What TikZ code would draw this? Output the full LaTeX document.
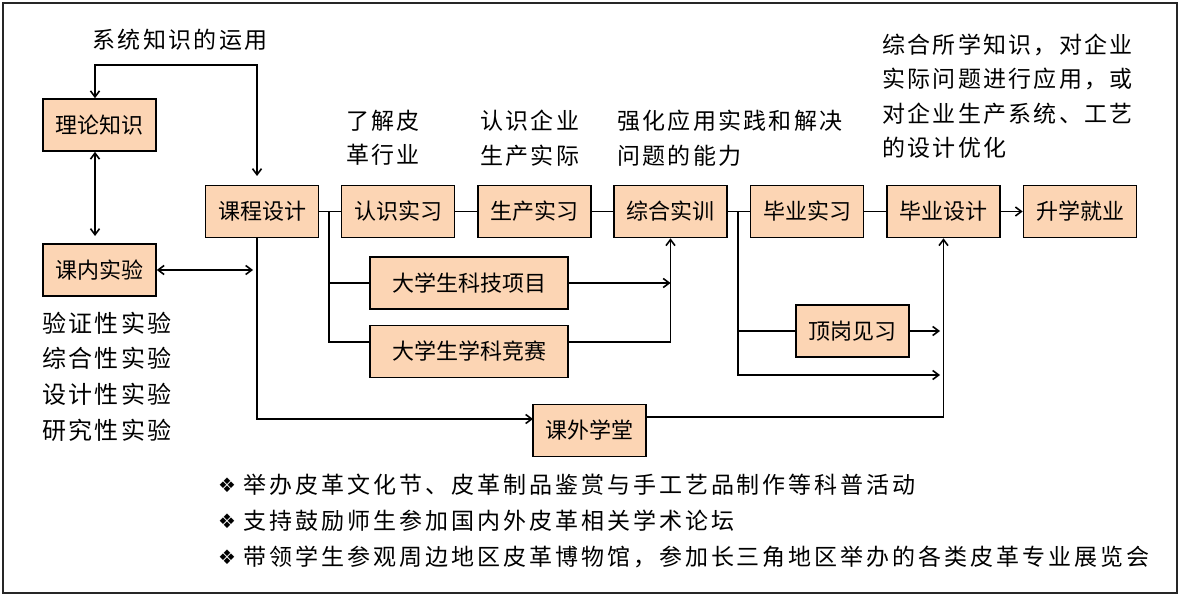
\documentclass[tikz,border=0pt]{standalone}
\usepackage{fontspec}
\setmainfont{Noto Sans CJK SC}
\newfontfamily\boxfont{Noto Sans CJK SC}
\newfontfamily\annofont[LetterSpace=10]{Noto Sans CJK SC}
\newfontfamily\bulfont[LetterSpace=13]{Noto Sans CJK SC}
\newfontfamily\symfont{DejaVu Sans}
\usetikzlibrary{arrows.meta,calc}
\definecolor{peach}{HTML}{FCD5B4}
\newcommand{\bul}{\makebox[25pt][l]{\raisebox{1pt}{\symfont\fontsize{20}{20}\selectfont ❖}}}
\begin{document}
\begin{tikzpicture}[x=1pt,y=-1pt,
 box/.style={draw=black,line width=1.6pt,fill=peach,minimum width=113pt,minimum height=52pt,inner sep=0pt,font=\boxfont\fontsize{22}{26}\selectfont},
 wide/.style={box,minimum width=198pt},
 conn/.style={line width=1.6pt,draw=black},
 arr/.style={conn,-{Straight Barb[length=6pt,width=9pt]}},
 dbl/.style={conn,{Straight Barb[length=6pt,width=9pt]}-{Straight Barb[length=6pt,width=9pt]}},
 anno/.style={inner sep=0pt,align=left,anchor=west,font=\annofont\fontsize{23}{34.5}\selectfont}
]
\useasboundingbox (0,0) rectangle (1180,596);
\fill[white] (0,0) rectangle (1180,596);
\draw[line width=1.5pt,draw=black!85] (3,3) rectangle (1177,593);

% boxes
\node[box] (lun) at (99.5,125) {理论知识};
\node[box] (kn)  at (99.5,270) {课内实验};
\node[box] (kc)  at (262,211.5) {课程设计};
\node[box] (rs)  at (398,211.5) {认识实习};
\node[box] (sc)  at (534.5,211.5) {生产实习};
\node[box] (zh)  at (670.5,211.5) {综合实训};
\node[box] (by)  at (807,211.5) {毕业实习};
\node[box] (bs)  at (943.5,211.5) {毕业设计};
\node[box] (sx)  at (1080,211.5) {升学就业};
\node[wide] (kj) at (469,283) {大学生科技项目};
\node[wide] (js) at (469,351.5) {大学生学科竞赛};
\node[box] (dg)  at (852.5,331) {顶岗见习};
\node[box] (kw)  at (589.5,430.5) {课外学堂};

% coordinates
\coordinate (sysL) at (95,65);
\coordinate (kcin) at (257,176);
\coordinate (knTop) at (95,236);
\coordinate (vline) at (253,270);
\coordinate (kwin) at (533,419);
\coordinate (b1) at (329,211.5);
\coordinate (b2) at (738,211.5);
\coordinate (tipA) at (940,331);
\coordinate (tipB) at (940,375);

% connectors
\draw[dbl] (lun.north -| sysL) -- (sysL) -| (kcin);
\draw[dbl] (lun.south -| sysL) -- (knTop);
\draw[dbl] (kn.east) -- (vline);
\draw[arr] (kc.south -| kcin) |- (kwin);
\draw[arr] ([yshift=13.5pt]kw.east) -| (bs.south);
\draw[conn] (kc.east) -- (rs.west);
\draw[conn] (rs.east) -- (sc.west);
\draw[conn] (sc.east) -- (zh.west);
\draw[conn] (zh.east) -- (by.west);
\draw[conn] (by.east) -- (bs.west);
\draw[arr] (bs.east) -- (sx.west);
\draw[conn] (b1) |- ([yshift=9.5pt]js.west);
\draw[conn] (kj.west -| b1) -- (kj.west);
\draw[arr] (kj.east) -- (kj.east -| zh.south);
\draw[arr] ([yshift=9.5pt]js.east) -| (zh.south);
\draw[arr] (b2) |- (tipB);
\draw[conn] (dg.west -| b2) -- (dg.west);
\draw[arr] (dg.east) -- (tipA);

% annotations
\node[inner sep=0pt,font=\annofont\fontsize{23}{30}\selectfont] (sysT) at (180,40) {系统知识的运用};
\node[anno] (t1) at (346,138) {了解皮\\革行业};
\node[anno] (t2) at (480,138) {认识企业\\生产实际};
\node[anno] (t3) at (617,138) {强化应用实践和解决\\问题的能力};
\node[anno] (t4) at (882,96) {综合所学知识，对企业\\实际问题进行应用，或\\对企业生产系统、工艺\\的设计优化};
\node[anno,font=\annofont\fontsize{24}{35.6}\selectfont] (t5) at (42,376.5) {验证性实验\\综合性实验\\设计性实验\\研究性实验};
\node[anno,font=\bulfont\fontsize{23}{36}\selectfont] (t6) at (218,521) {\bul 举办皮革文化节、皮革制品鉴赏与手工艺品制作等科普活动\\\bul 支持鼓励师生参加国内外皮革相关学术论坛\\\bul 带领学生参观周边地区皮革博物馆，参加长三角地区举办的各类皮革专业展览会};
\end{tikzpicture}
\end{document}
